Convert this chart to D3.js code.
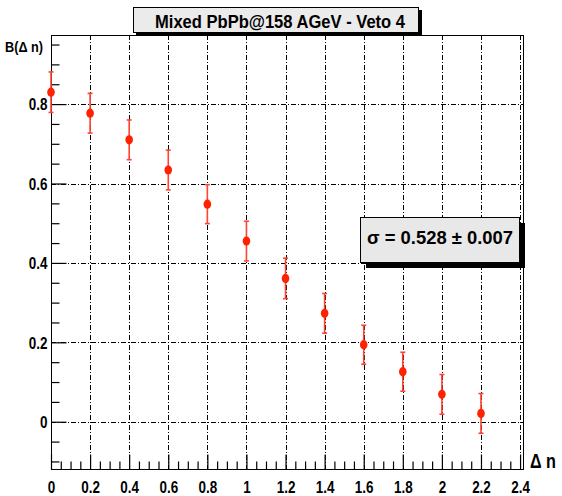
<!DOCTYPE html>
<html>
  <head>
    <meta charset="utf-8">
    <style>
    body {
      margin: 0px;
      background: white;
    }
    text {
      font-family: "Liberation Sans Narrow", "Arial Narrow", "Liberation Sans", Arial, sans-serif;
      font-weight: bold;
    }
    </style>
  </head>
  <body>
    <div id="elm"></div>

    <script src="https://d3js.org/d3.v7.min.js"></script>
    <script>
    'use strict';

    // data
    var dn     = [0, 0.2, 0.4, 0.6, 0.8, 1.0, 1.2, 1.4, 1.6, 1.8, 2.0, 2.2];
    var bValue = [0.830, 0.777, 0.710, 0.634, 0.548, 0.455, 0.361, 0.273, 0.194, 0.126, 0.069, 0.021];
    var bError = [0.051, 0.050, 0.050, 0.050, 0.049, 0.050, 0.051, 0.050, 0.049, 0.049, 0.050, 0.050];
    var xTicks = [0, 0.2, 0.4, 0.6, 0.8, 1, 1.2, 1.4, 1.6, 1.8, 2, 2.2, 2.4];
    var yTicks = [0, 0.2, 0.4, 0.6, 0.8];
    var titleText = 'Mixed PbPb@158 AGeV - Veto 4';
    var fitText = 'σ = 0.528 ± 0.007';

    var W = 562, H = 496;
    var frame = {left: 51, right: 523, top: 35, bottom: 469};

    var x = d3.scaleLinear().domain([0, 2.415]).range([frame.left, frame.right]);
    var y = d3.scaleLinear().domain([-0.119, 0.974]).range([frame.bottom, frame.top]);

    var svg = d3.select('#elm').append('svg')
        .attr('width', W).attr('height', H);

    // squeeze a text horizontally (the reference font is condensed)
    function squeeze(sel, k) {
      sel.each(function() {
        var n = this.getComputedTextLength();
        d3.select(this).attr('textLength', n * k).attr('lengthAdjust', 'spacingAndGlyphs');
      });
    }

    // grid (dash-dot)
    var dash = '5,2,1,2';
    svg.append('g').selectAll('line').data(xTicks.filter(function(d) { return d > 0; }))
      .join('line')
        .attr('x1', function(d) { return Math.round(x(d)) + 0.5; })
        .attr('x2', function(d) { return Math.round(x(d)) + 0.5; })
        .attr('y1', frame.top).attr('y2', frame.bottom)
        .attr('stroke', '#000').attr('stroke-width', 1)
        .attr('stroke-dasharray', dash);
    svg.append('g').selectAll('line').data(yTicks)
      .join('line')
        .attr('y1', function(d) { return Math.round(y(d)) + 0.5; })
        .attr('y2', function(d) { return Math.round(y(d)) + 0.5; })
        .attr('x1', frame.left).attr('x2', frame.right)
        .attr('stroke', '#000').attr('stroke-width', 1)
        .attr('stroke-dasharray', dash);

    // frame
    svg.append('rect')
        .attr('x', frame.left + 0.5).attr('y', frame.top + 0.5)
        .attr('width', frame.right - frame.left).attr('height', frame.bottom - frame.top)
        .attr('fill', 'none').attr('stroke', '#000').attr('stroke-width', 1);

    // axes, ticks pointing inward
    var xMinor = d3.range(0.05, 2.41, 0.05).filter(function(v) { return Math.abs(v * 5 - Math.round(v * 5)) > 1e-6; });
    var yMinor = d3.range(-0.1, 0.97, 0.05).filter(function(v) { return Math.abs(v * 5 - Math.round(v * 5)) > 1e-6; });

    var gx = svg.append('g').attr('transform', 'translate(0,' + (frame.bottom + 0.5) + ')');
    gx.call(d3.axisBottom(x).tickValues(xTicks).tickSize(-15).tickPadding(12)
        .tickFormat(d3.format('')));
    gx.append('g').call(d3.axisBottom(x).tickValues(xMinor).tickSize(-8).tickFormat(''));

    var gy = svg.append('g').attr('transform', 'translate(' + (frame.left + 0.5) + ',0)');
    gy.call(d3.axisLeft(y).tickValues(yTicks).tickSize(-15).tickPadding(4)
        .tickFormat(d3.format('')));
    gy.append('g').call(d3.axisLeft(y).tickValues(yMinor).tickSize(-8).tickFormat(''));

    svg.selectAll('.domain').remove();
    svg.selectAll('.tick line').attr('stroke', '#000').attr('stroke-width', 1.2);
    svg.selectAll('.tick text').attr('fill', '#000').style('font-size', '16px');
    gy.selectAll('.tick text').attr('dy', '0.36em');
    squeeze(svg.selectAll('.tick text'), 0.84);

    // error bars and markers
    var pts = dn.map(function(d, i) { return {x: d, v: bValue[i], e: bError[i]}; });
    var eb = svg.append('g').attr('stroke', '#ff4433').attr('stroke-width', 1.6);
    eb.selectAll('line.bar').data(pts).join('line').attr('class', 'bar')
        .attr('x1', function(d) { return x(d.x); }).attr('x2', function(d) { return x(d.x); })
        .attr('y1', function(d) { return y(d.v + d.e); }).attr('y2', function(d) { return y(d.v - d.e); });
    eb.selectAll('line.cap-hi').data(pts).join('line').attr('class', 'cap-hi')
        .attr('x1', function(d) { return x(d.x) - 2.5; }).attr('x2', function(d) { return x(d.x) + 2.5; })
        .attr('y1', function(d) { return y(d.v + d.e); }).attr('y2', function(d) { return y(d.v + d.e); });
    eb.selectAll('line.cap-lo').data(pts).join('line').attr('class', 'cap-lo')
        .attr('x1', function(d) { return x(d.x) - 2.5; }).attr('x2', function(d) { return x(d.x) + 2.5; })
        .attr('y1', function(d) { return y(d.v - d.e); }).attr('y2', function(d) { return y(d.v - d.e); });

    svg.append('g').selectAll('ellipse').data(pts).join('ellipse')
        .attr('cx', function(d) { return x(d.x); })
        .attr('cy', function(d) { return y(d.v); })
        .attr('rx', 3.8).attr('ry', 4.6)
        .attr('fill', '#ff2200');

    // axis titles
    svg.append('text').attr('x', 5).attr('y', 52)
        .attr('textLength', 38).attr('lengthAdjust', 'spacingAndGlyphs')
        .style('font-size', '15px').text('B(Δ n)');
    svg.append('text').attr('x', 530).attr('y', 468)
        .attr('textLength', 26).attr('lengthAdjust', 'spacingAndGlyphs')
        .style('font-size', '20px').text('Δ n');

    // title box with shadow
    svg.append('rect').attr('x', 136).attr('y', 10).attr('width', 286).attr('height', 26).attr('fill', '#000');
    svg.append('rect').attr('x', 133.5).attr('y', 7.5).attr('width', 285).attr('height', 25)
        .attr('fill', '#ebebeb').attr('stroke', '#000').attr('stroke-width', 1);
    svg.append('text').attr('x', 155).attr('y', 28)
        .attr('textLength', 250).attr('lengthAdjust', 'spacingAndGlyphs')
        .style('font-size', '19px').text(titleText);

    // fit result box with shadow
    svg.append('rect').attr('x', 366).attr('y', 223).attr('width', 159).attr('height', 45).attr('fill', '#000');
    svg.append('rect').attr('x', 360.5).attr('y', 217.5).attr('width', 159).attr('height', 45)
        .attr('fill', '#e8e8e8').attr('stroke', '#000').attr('stroke-width', 1);
    svg.append('text').attr('x', 367).attr('y', 244)
        .attr('textLength', 146).attr('lengthAdjust', 'spacingAndGlyphs')
        .style('font-size', '19px').text(fitText);
    </script>
  </body>
</html>
